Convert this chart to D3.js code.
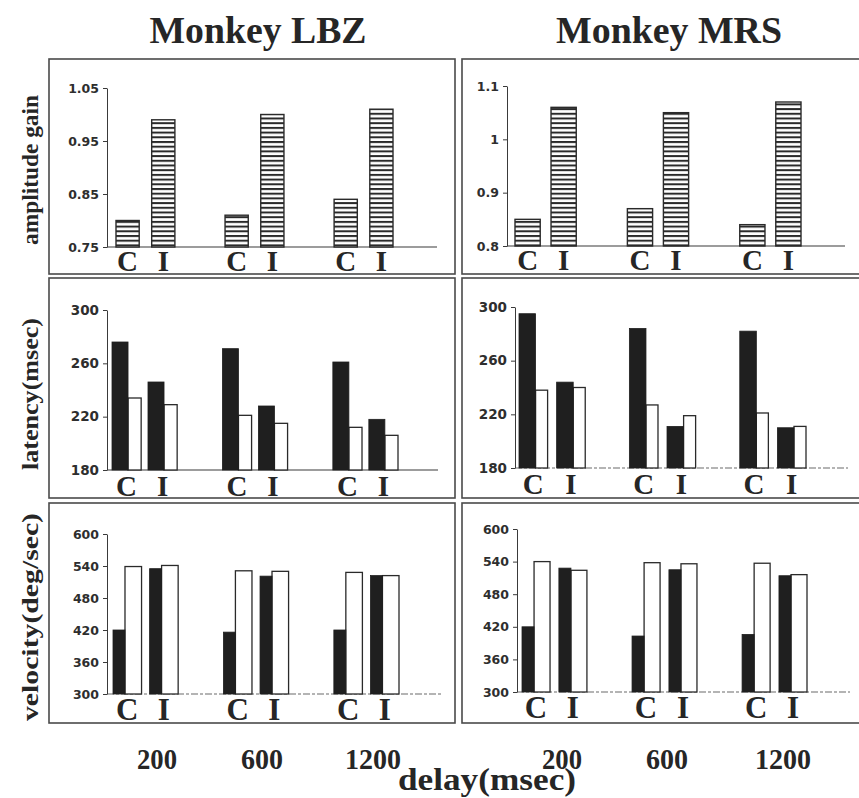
<!DOCTYPE html>
<html>
<head>
<meta charset="utf-8">
<script src="https://cdn.jsdelivr.net/npm/d3@7"></script>
<style>
  html, body { margin: 0; padding: 0; background: #fff; }
  svg { display: block; }
</style>
</head>
<body>
<script>
// ---- data ----------------------------------------------------------------
const delays = ["200", "600", "1200"];
const conditions = ["C", "I"];
const monkeys = ["Monkey LBZ", "Monkey MRS"];

// amplitude gain (hatched bars), one value per delay
const gainLBZ_C = [0.80, 0.81, 0.84];
const gainLBZ_I = [0.99, 1.00, 1.01];
const gainMRS_C = [0.85, 0.87, 0.84];
const gainMRS_I = [1.06, 1.05, 1.07];

// latency (msec): filled bar then open bar for each condition
const latLBZ_C_filled = [276, 271, 261];
const latLBZ_C_open   = [234, 221, 212];
const latLBZ_I_filled = [246, 228, 218];
const latLBZ_I_open   = [229, 215, 206];
const latMRS_C_filled = [295, 284, 282];
const latMRS_C_open   = [238, 227, 221];
const latMRS_I_filled = [244, 211, 210];
const latMRS_I_open   = [240, 219, 211];

// velocity (deg/sec): filled bar then open bar for each condition
const velLBZ_C_filled = [420, 416, 420];
const velLBZ_C_open   = [539, 531, 528];
const velLBZ_I_filled = [535, 521, 522];
const velLBZ_I_open   = [541, 530, 522];
const velMRS_C_filled = [420, 403, 406];
const velMRS_C_open   = [540, 538, 537];
const velMRS_I_filled = [528, 525, 514];
const velMRS_I_open   = [524, 536, 516];

// tick labels
const gainTicksLBZ = ["0.75", "0.85", "0.95", "1.05"];
const gainTicksMRS = ["0.8", "0.9", "1", "1.1"];
const latTicks = ["180", "220", "260", "300"];
const velTicks = ["300", "360", "420", "480", "540", "600"];

const rowTitles = ["amplitude gain", "latency(msec)", "velocity(deg/sec)"];
const xTitle = "delay(msec)";

// ---- layout --------------------------------------------------------------
const W = 859, H = 798;
const ink = "#262626";
const serif = "'Liberation Serif', 'Times New Roman', serif";
const sans = "'DejaVu Sans', sans-serif";

const svg = d3.select("body").append("svg")
  .attr("width", W).attr("height", H)
  .attr("viewBox", `0 0 ${W} ${H}`);

const defs = svg.append("defs");
const hatch = defs.append("pattern")
  .attr("id", "hatch")
  .attr("patternUnits", "userSpaceOnUse")
  .attr("width", 10).attr("height", 4.7);
hatch.append("rect").attr("width", 10).attr("height", 4.7).attr("fill", "#fff");
hatch.append("rect").attr("y", 0).attr("width", 10).attr("height", 2).attr("fill", "#2a2a2a");

// panel frames: columns and rows
const colBox = [[49, 455], [462, 864]];
const rowBox = [[59, 274], [278, 498], [503, 723]];

// per-panel plotting geometry
const panels = [
  { r: 0, c: 0, kind: "gain", C: gainLBZ_C, I: gainLBZ_I, ticks: gainTicksLBZ,
    axisX: 107, yBot: 247, yTop: 88, g0: 116, g1: 393, gPad: 0.46, iPad: 0.35, baseEnd: 437, tickFont: 12.5 },
  { r: 0, c: 1, kind: "gain", C: gainMRS_C, I: gainMRS_I, ticks: gainTicksMRS,
    axisX: 507, yBot: 246, yTop: 86, g0: 515, g1: 801, gPad: 0.455, iPad: 0.3, baseEnd: 845, tickFont: 12.5 },
  { r: 1, c: 0, kind: "pair", Cf: latLBZ_C_filled, Co: latLBZ_C_open, If: latLBZ_I_filled, Io: latLBZ_I_open, ticks: latTicks,
    axisX: 107, yBot: 470, yTop: 310, g0: 112, g1: 398, gPad: 0.41, iPad: 0.19, split: 0.55, baseEnd: 438, tickFont: 13.5 },
  { r: 1, c: 1, kind: "pair", Cf: latMRS_C_filled, Co: latMRS_C_open, If: latMRS_I_filled, Io: latMRS_I_open, ticks: latTicks,
    axisX: 515, yBot: 468, yTop: 307, g0: 519, g1: 806, gPad: 0.40, iPad: 0.24, split: 0.58, baseEnd: 848, tickFont: 13.5, dashed: true },
  { r: 2, c: 0, kind: "pair", Cf: velLBZ_C_filled, Co: velLBZ_C_open, If: velLBZ_I_filled, Io: velLBZ_I_open, ticks: velTicks,
    axisX: 107, yBot: 694, yTop: 534, g0: 113, g1: 399, gPad: 0.41, iPad: 0.22, split: 0.42, baseEnd: 441, tickFont: 12.5, dashed: true },
  { r: 2, c: 1, kind: "pair", Cf: velMRS_C_filled, Co: velMRS_C_open, If: velMRS_I_filled, Io: velMRS_I_open, ticks: velTicks,
    axisX: 517, yBot: 692, yTop: 529, g0: 522, g1: 807, gPad: 0.41, iPad: 0.24, split: 0.43, baseEnd: 850, tickFont: 12.5, dashed: true }
];

// ---- frames --------------------------------------------------------------
rowBox.forEach(([y0, y1]) => {
  colBox.forEach(([x0, x1]) => {
    svg.append("rect")
      .attr("x", x0).attr("y", y0)
      .attr("width", x1 - x0).attr("height", y1 - y0)
      .attr("fill", "none").attr("stroke", "#4a4a4a").attr("stroke-width", 1.6);
  });
});

// ---- panels --------------------------------------------------------------
panels.forEach(p => {
  const g = svg.append("g");
  const tickVals = p.ticks.map(Number);
  const y = d3.scaleLinear()
    .domain([d3.min(tickVals), d3.max(tickVals)])
    .range([p.yBot, p.yTop]);

  const x0 = d3.scaleBand().domain(delays).range([p.g0, p.g1])
    .paddingInner(p.gPad).paddingOuter(0);
  const x1 = d3.scaleBand().domain(conditions).range([0, x0.bandwidth()])
    .paddingInner(p.iPad).paddingOuter(0);

  // baseline
  g.append("line")
    .attr("x1", p.axisX).attr("x2", p.baseEnd)
    .attr("y1", p.yBot).attr("y2", p.yBot)
    .attr("stroke", p.dashed ? "#6a6a6a" : "#3a3a3a")
    .attr("stroke-width", 1.2)
    .attr("stroke-dasharray", p.dashed ? "7,2,3,2" : null);

  // value axis
  const axis = d3.axisLeft(y)
    .tickValues(tickVals)
    .tickSize(4).tickSizeOuter(0).tickPadding(4)
    .tickFormat((d, i) => p.ticks[i]);
  const ag = g.append("g").attr("transform", `translate(${p.axisX},0)`).call(axis);
  ag.select(".domain").attr("stroke", "#3a3a3a").attr("stroke-width", 1);
  ag.selectAll(".tick line").attr("stroke", "#3a3a3a");
  ag.selectAll(".tick text")
    .attr("fill", "#2e2e2e")
    .style("font-family", sans)
    .style("font-weight", "bold")
    .style("font-size", p.tickFont + "px");

  if (p.kind === "gain") {
    const rows = [];
    delays.forEach((d, i) => {
      rows.push({ delay: d, cond: "C", v: p.C[i] });
      rows.push({ delay: d, cond: "I", v: p.I[i] });
    });
    g.selectAll("rect.bar").data(rows).join("rect")
      .attr("class", "bar")
      .attr("x", d => x0(d.delay) + x1(d.cond))
      .attr("width", x1.bandwidth())
      .attr("y", d => y(d.v))
      .attr("height", d => y.range()[0] - y(d.v))
      .attr("fill", "url(#hatch)")
      .attr("stroke", "#2a2a2a").attr("stroke-width", 1.4);
  } else {
    const rows = [];
    delays.forEach((d, i) => {
      rows.push({ delay: d, cond: "C", filled: p.Cf[i], open: p.Co[i] });
      rows.push({ delay: d, cond: "I", filled: p.If[i], open: p.Io[i] });
    });
    const bw = x1.bandwidth();
    const fw = bw * p.split;
    g.selectAll("rect.open").data(rows).join("rect")
      .attr("class", "open")
      .attr("x", d => x0(d.delay) + x1(d.cond) + fw)
      .attr("width", bw - fw)
      .attr("y", d => y(d.open))
      .attr("height", d => y.range()[0] - y(d.open))
      .attr("fill", "#fff")
      .attr("stroke", "#2a2a2a").attr("stroke-width", 1.3);
    g.selectAll("rect.filled").data(rows).join("rect")
      .attr("class", "filled")
      .attr("x", d => x0(d.delay) + x1(d.cond))
      .attr("width", fw)
      .attr("y", d => y(d.filled))
      .attr("height", d => y.range()[0] - y(d.filled))
      .attr("fill", "#1f1f1f")
      .attr("stroke", "#1f1f1f").attr("stroke-width", 0.8);
  }

  // condition letters under each bar group
  const letters = [];
  delays.forEach(d => conditions.forEach(c => letters.push({ delay: d, cond: c })));
  g.selectAll("text.cond").data(letters).join("text")
    .attr("class", "cond")
    .attr("x", d => x0(d.delay) + x1(d.cond) + x1.bandwidth() / 2)
    .attr("y", p.yBot + (p.r === 0 ? 24 : 26))
    .attr("text-anchor", "middle")
    .attr("fill", ink)
    .style("font-family", serif)
    .style("font-weight", "bold")
    .style("font-size", (p.r === 2 ? 31 : 29) + "px")
    .text(d => d.cond);
});

// ---- titles --------------------------------------------------------------
const titleSpec = [{ x: 258, len: 217 }, { x: 669, len: 226 }];
svg.selectAll("text.monkey").data(monkeys).join("text")
  .attr("class", "monkey")
  .attr("x", (d, i) => titleSpec[i].x)
  .attr("y", 43)
  .attr("text-anchor", "middle")
  .attr("textLength", (d, i) => titleSpec[i].len)
  .attr("lengthAdjust", "spacingAndGlyphs")
  .attr("fill", ink)
  .style("font-family", serif).style("font-weight", "bold").style("font-size", "38px")
  .text(d => d);

// row titles, rotated along the left margin
const rowTitleSpec = [{ cy: 170, len: 150 }, { cy: 394, len: 152 }, { cy: 617, len: 208 }];
rowTitles.forEach((t, i) => {
  svg.append("text")
    .attr("transform", `translate(38,${rowTitleSpec[i].cy}) rotate(-90)`)
    .attr("text-anchor", "middle")
    .attr("textLength", rowTitleSpec[i].len)
    .attr("lengthAdjust", "spacingAndGlyphs")
    .attr("fill", ink)
    .style("font-family", serif).style("font-weight", "bold").style("font-size", "24px")
    .text(t);
});

// delay labels under each column
const delayX = [[157, 262, 373], [562, 667, 783]];
const delayLen = { "200": 40, "600": 42, "1200": 56 };
delayX.forEach(cols => {
  svg.selectAll(null).data(delays).join("text")
    .attr("x", (d, i) => cols[i])
    .attr("y", 769)
    .attr("text-anchor", "middle")
    .attr("textLength", d => delayLen[d])
    .attr("lengthAdjust", "spacingAndGlyphs")
    .attr("fill", ink)
    .style("font-family", serif).style("font-weight", "bold").style("font-size", "30px")
    .text(d => d);
});

svg.append("text")
  .attr("x", 487).attr("y", 790)
  .attr("text-anchor", "middle")
  .attr("textLength", 178)
  .attr("lengthAdjust", "spacingAndGlyphs")
  .attr("fill", ink)
  .style("font-family", serif).style("font-weight", "bold").style("font-size", "32px")
  .text(xTitle);
</script>
</body>
</html>
